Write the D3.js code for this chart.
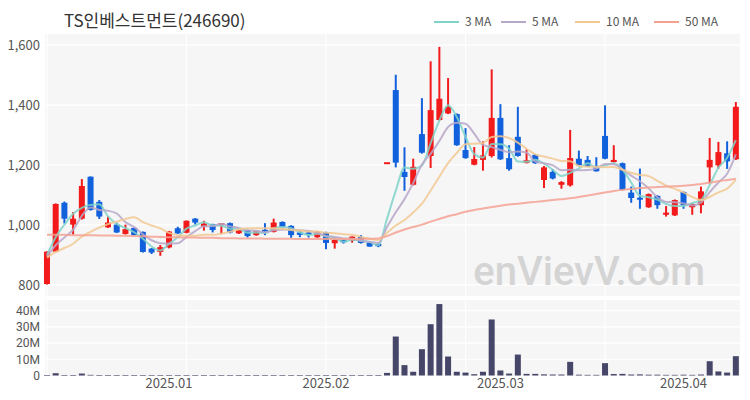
<!DOCTYPE html>
<html><head><meta charset="utf-8">
<script src="https://cdn.jsdelivr.net/npm/d3@7"></script>
<style>
html,body{margin:0;padding:0;background:#fff;}
svg{display:block;font-family:"Noto Sans CJK KR","Noto Sans",sans-serif;}
</style></head>
<body><svg id="c" width="750" height="400"></svg>
<script>
const dates = ["2024-12-10","2024-12-11","2024-12-12","2024-12-13","2024-12-16","2024-12-17","2024-12-18","2024-12-19","2024-12-20","2024-12-23","2024-12-24","2024-12-26","2024-12-27","2024-12-30",
"2025-01-02","2025-01-03","2025-01-06","2025-01-07","2025-01-08","2025-01-09","2025-01-10","2025-01-13","2025-01-14","2025-01-15","2025-01-16","2025-01-17","2025-01-20","2025-01-21","2025-01-22","2025-01-23","2025-01-24","2025-01-31",
"2025-02-03","2025-02-04","2025-02-05","2025-02-06","2025-02-07","2025-02-10","2025-02-11","2025-02-12","2025-02-13","2025-02-14","2025-02-17","2025-02-18","2025-02-19","2025-02-20","2025-02-21","2025-02-24","2025-02-25","2025-02-26","2025-02-27","2025-02-28",
"2025-03-04","2025-03-05","2025-03-06","2025-03-07","2025-03-10","2025-03-11","2025-03-12","2025-03-13","2025-03-14","2025-03-17","2025-03-18","2025-03-19","2025-03-20","2025-03-21","2025-03-24","2025-03-25","2025-03-26","2025-03-27","2025-03-28","2025-03-31",
"2025-04-01","2025-04-02","2025-04-03","2025-04-04","2025-04-07","2025-04-08","2025-04-09","2025-04-10"];
const open  = [803,911,1074,1001,1021,1161,1077,992,1001,970,990,977,921,910,925,989,974,1021,995,1003,1000,1006,972,983,966,983,977,1010,997,975,975,959,975,939,950,948,960,941,937,1206,1450,1177,1134,1303,1230,1350,1372,1370,1250,1201,1217,1230,1357,1223,1294,1207,1234,1150,1177,1134,1132,1221,1217,1197,1297,1210,1206,1108,1090,1059,1097,1034,1032,1110,1059,1066,1192,1199,1239,1219];
const high  = [912,1072,1078,1043,1153,1162,1083,1028,1008,1001,992,978,923,933,980,994,1015,1023,1014,1004,1006,1008,985,984,980,1006,1021,1012,999,980,980,980,977,951,951,962,966,942,938,1206,1501,1259,1221,1423,1546,1594,1490,1372,1323,1260,1279,1519,1403,1266,1394,1252,1236,1197,1186,1146,1317,1248,1230,1226,1399,1266,1208,1128,1188,1105,1099,1063,1085,1112,1073,1128,1290,1277,1279,1410];
const low   = [801,909,1005,968,1018,1048,1020,990,973,968,965,908,903,897,922,970,972,1001,981,975,970,972,970,958,964,966,975,990,957,959,958,957,919,921,938,941,938,927,926,1206,1192,1114,1132,1238,1190,1348,1370,1264,1221,1199,1181,1225,1217,1181,1228,1205,1204,1123,1152,1121,1128,1197,1193,1178,1219,1208,1115,1074,1054,1057,1054,1028,1030,1054,1034,1039,1139,1188,1187,1217];
const close = [911,1070,1021,1021,1130,1050,1028,1008,975,986,966,910,908,926,978,972,1014,1008,1005,983,1005,975,983,963,979,978,1008,993,966,967,967,977,940,950,942,961,940,928,929,1206,1208,1160,1194,1241,1383,1421,1394,1266,1223,1220,1232,1357,1219,1186,1230,1216,1206,1192,1155,1143,1223,1199,1195,1179,1221,1217,1117,1090,1085,1103,1066,1041,1083,1066,1070,1112,1217,1243,1212,1394];
const volumeM = [0.3,1.4,0.3,0.2,1.2,0.4,0.2,0.1,0.1,0.1,0.1,0.2,0.1,0.1,0.2,0.1,0.2,0.1,0.1,0.1,0.1,0.1,0.1,0.1,0.1,0.1,0.2,0.1,0.1,0.1,0.1,0.1,0.2,0.1,0.1,0.1,0.1,0.1,0.1,1.6,24,6.4,2.3,16.2,31.6,44,11.7,2.3,1.8,0.8,2.3,34.5,3.1,1.2,12.9,1.0,1.0,0.7,0.6,0.6,8.4,0.5,0.4,0.4,7.6,0.9,1.0,0.6,0.7,0.5,0.5,0.4,0.4,0.5,0.4,0.6,8.8,2.5,1.8,11.9];
// closes before the visible window (for moving-average warm-up)
const prevCloses = [884,888,880,890,893,886,890,893,897];
const ma50 = [967,967,967,966,966,966,965,965,964,964,963,962,961,960,959,959,958,958,957,957,956,956,955,955,955,954,954,954,954,953,953,953,953,953,953,953,953,954,955,963,975,985,993,1001,1011,1020,1029,1036,1044,1050,1055,1060,1064,1068,1071,1074,1077,1080,1083,1086,1089,1093,1098,1103,1108,1113,1117,1120,1123,1125,1127,1128,1129,1131,1133,1137,1141,1146,1150,1154];
const priceTicks = [800,1000,1200,1400,1600];
const volTicks = [0,10,20,30,40];
const monthTicks = [["2025-01-02","2025.01"],["2025-02-03","2025.02"],["2025-03-04","2025.03"],["2025-04-02","2025.04"]];
const gridDates = ["2024-12-10","2025-01-06","2025-02-03","2025-02-25","2025-03-20"];
const maSpecs = [["3 MA",3,"#7fd3c9"],["5 MA",5,"#b7a7c9"],["10 MA",10,"#f2c992"],["50 MA",50,"#f5a192"]];

const svg = d3.select("#c");
const L = 45, R = 740, PT = 34, PB = 296, VT = 300, VB = 376;
const x = d3.scaleBand().domain(dates).range([42.6, 740.2]).paddingInner(0);
const cx = d => x(d) + x.bandwidth()/2;
const y = d3.scaleLinear().domain([763, 1637]).range([PB, PT]);
const yv = d3.scaleLinear().domain([0, 46.5]).range([375.5, VT]);

// panels
svg.append("rect").attr("x",L).attr("y",PT).attr("width",R-L).attr("height",PB-PT).attr("fill","#f6f6f7");
svg.append("rect").attr("x",L).attr("y",VT).attr("width",R-L).attr("height",VB-VT).attr("fill","#f6f6f7");

// grid
const g = svg.append("g").attr("stroke","#ffffff").attr("stroke-width",1.2);
priceTicks.forEach(t=>g.append("line").attr("x1",L).attr("x2",R).attr("y1",y(t)).attr("y2",y(t)));
volTicks.slice(1).forEach(t=>g.append("line").attr("x1",L).attr("x2",R).attr("y1",yv(t)).attr("y2",yv(t)));
gridDates.forEach(d=>{
  g.append("line").attr("x1",cx(d)).attr("x2",cx(d)).attr("y1",PT).attr("y2",PB);
  g.append("line").attr("x1",cx(d)).attr("x2",cx(d)).attr("y1",VT).attr("y2",VB);
});

// axes labels
const yAxis = d3.axisLeft(y).tickValues(priceTicks).tickSize(0).tickPadding(4).tickFormat(d3.format(","));
const ya = svg.append("g").attr("transform",`translate(${L-1},0)`).call(yAxis);
const yvAxis = d3.axisLeft(yv).tickValues(volTicks).tickSize(0).tickPadding(4).tickFormat(d=> d===0?"0":d+"M");
const yva = svg.append("g").attr("transform",`translate(${L-1},0)`).call(yvAxis);
const xAxis = d3.axisBottom(x).tickValues(monthTicks.map(m=>m[0])).tickSize(0).tickPadding(3)
  .tickFormat(d=>monthTicks.find(m=>m[0]===d)[1]);
const xa = svg.append("g").attr("transform",`translate(0,${VB})`).call(xAxis);
[ya,xa].forEach(a=>{a.select(".domain").remove();a.selectAll("text").attr("fill","#555").style("font-size","13px").style("font-family","'Noto Sans CJK KR','Noto Sans',sans-serif");});
yva.select(".domain").remove();
yva.selectAll("text").attr("fill","#555").style("font-size","12px").style("font-family","Roboto,'Noto Sans',sans-serif");

// watermark
svg.append("text").attr("x",705).attr("y",285).attr("text-anchor","end").attr("fill","#d4d4d4")
  .style("font-size","40px").style("font-weight","500").style("font-family","Roboto,'Noto Sans',sans-serif").text("enVievV.com");

// volume
svg.append("g").selectAll("rect").data(dates).join("rect")
  .attr("x",d=>cx(d)-3).attr("width",6)
  .attr("y",(d,i)=>yv(volumeM[i])).attr("height",(d,i)=>Math.max(0.6,yv(0)-yv(volumeM[i])))
  .attr("fill","#464669");

// candles
const up = "#f21a1a", dn = "#1160dc";
const cg = svg.append("g");
dates.forEach((d,i)=>{
  const col = close[i] >= open[i] ? up : dn;
  cg.append("line").attr("x1",cx(d)).attr("x2",cx(d)).attr("y1",y(high[i])).attr("y2",y(low[i])).attr("stroke",col).attr("stroke-width",2);
  const top = y(Math.max(open[i],close[i])), bot = y(Math.min(open[i],close[i]));
  const h = Math.max(2, bot-top);
  cg.append("rect").attr("x",cx(d)-3).attr("width",6).attr("y",bot-top<2?(top+bot)/2-1:top).attr("height",h).attr("fill",col);
});

// moving averages
const allClose = prevCloses.concat(close);
const off = prevCloses.length;
function ma(n){ return close.map((c,i)=>{ const j=i+off; const s=Math.max(0,j-n+1); const w=allClose.slice(s,j+1); return d3.mean(w);}); }
const line = d3.line().x((v,i)=>cx(dates[i])).y(v=>y(v)).curve(d3.curveMonotoneX);
maSpecs.forEach(([name,n,col])=>{
  const vals = n===50 ? ma50 : ma(n);
  svg.append("path").attr("d",line(vals)).attr("fill","none").attr("stroke",col).attr("stroke-width",2).attr("stroke-opacity",0.85);
});

// title
svg.append("text").attr("x",64).attr("y",27).attr("fill","#333").style("font-size","17px")
  .style("font-family","'Noto Sans CJK KR',sans-serif").text("TS인베스트먼트(246690)");

// legend
const legX = [434,501,575,654];
maSpecs.forEach(([name,n,col],k)=>{
  svg.append("line").attr("x1",legX[k]).attr("x2",legX[k]+25).attr("y1",22).attr("y2",22).attr("stroke",col).attr("stroke-width",2);
  svg.append("text").attr("x",legX[k]+31).attr("y",26).attr("fill","#555").style("font-size","12px")
    .style("font-family","'Noto Sans CJK KR','Noto Sans',sans-serif").text(name);
});
</script></body></html>
